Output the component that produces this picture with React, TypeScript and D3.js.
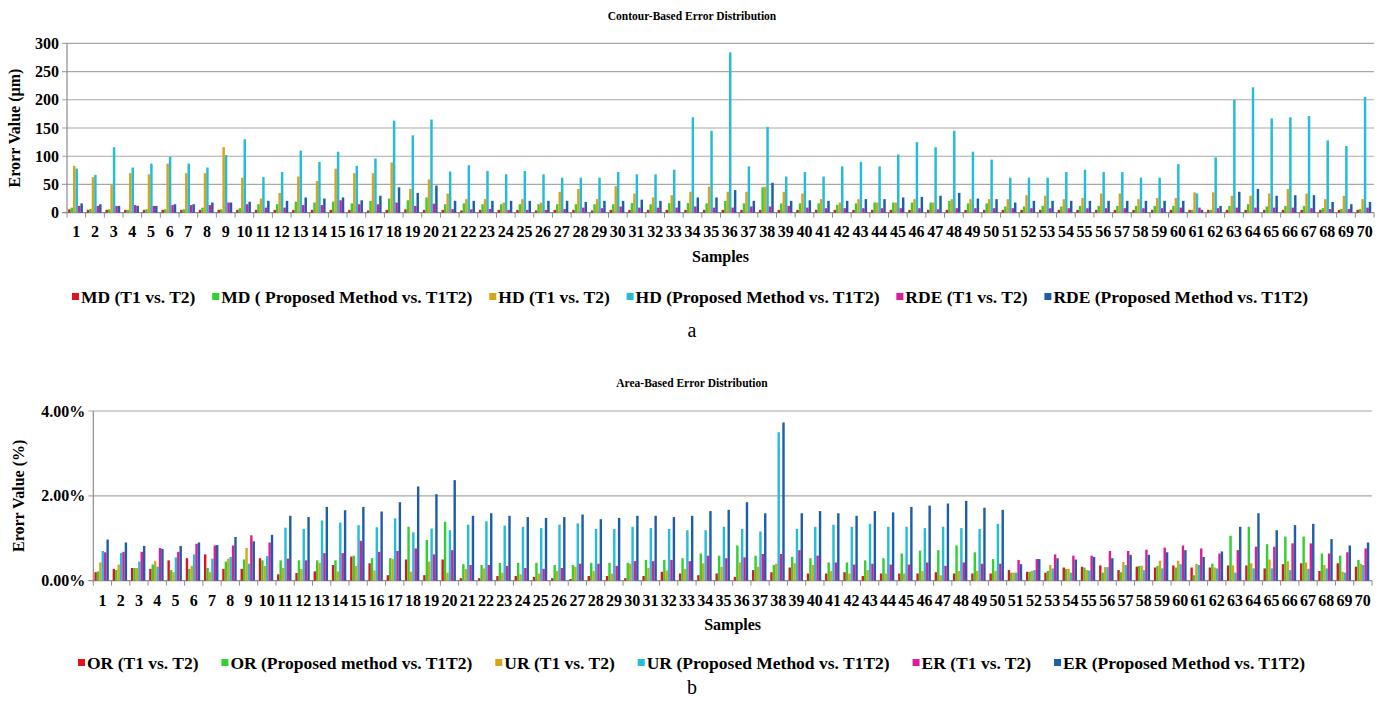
import { useEffect, useRef } from 'react';
import * as d3 from 'd3';

// Sample labels 1..70
const samples = d3.range(1, 71).map(String);

// ---- Contour-based errors (µm) ----
const mdT1 = [6, 5, 5, 5, 5, 5, 5, 5, 5, 5, 5, 5, 5, 5, 5, 5, 4, 5, 6, 5, 5, 4, 5, 5, 5, 4, 5, 5, 4, 5, 5, 5, 5, 5, 5, 5, 5, 5, 5, 5, 5, 5, 5, 5, 5, 5, 5, 5, 5, 5, 5, 5, 5, 5, 5, 5, 5, 5, 5, 5, 5, 5, 5, 5, 5, 5, 5, 5, 5, 5];
const mdProp = [9, 6.5, 6, 5, 6, 6, 6, 9, 6, 8, 15, 15, 19.5, 18, 19.5, 16.5, 21, 25, 22, 27, 15, 16.5, 15, 15, 15, 15, 15, 15, 15, 15, 17, 15, 17, 17, 16.5, 21, 16.5, 45, 16.5, 16.5, 16.5, 14, 16.5, 18, 18, 18, 18, 21, 16.5, 16.5, 11, 11, 12, 11, 12, 12, 12, 12, 12, 12, 5, 5, 12, 15, 11, 12, 12, 8, 6.5, 6.5];
const hdT1 = [83, 63, 50, 70, 68, 87, 70, 70, 116, 62, 25, 35, 64, 56, 78, 70, 70, 89, 42, 59, 34, 24, 24, 18, 24, 18, 37, 42, 24, 47, 34, 27, 31, 37, 46, 37, 37, 46, 37, 34, 24, 18, 24, 18, 18, 24, 18, 24, 24, 24, 24, 31, 30, 24, 26, 34, 34, 24, 26, 26, 36, 36, 30, 30, 34, 42, 34, 24, 30, 24];
const hdProp = [78, 67, 116, 80, 87, 99, 87, 80, 102, 130, 63, 72, 110, 90, 108, 83, 96, 163, 137, 165, 73, 84, 74, 68, 74, 68, 62, 62, 62, 72, 68, 68, 76, 169, 145, 284, 82, 152, 64, 72, 64, 82, 90, 82, 103, 125, 116, 145, 108, 94, 62, 62, 62, 72, 76, 72, 72, 62, 62, 86, 34, 98, 200, 222, 167, 169, 171, 128, 118, 205];
const rdeT1 = [12, 12, 12, 13.5, 12, 13.5, 13.5, 13.5, 18, 15, 9, 9, 13.5, 13.5, 22, 15, 15, 18, 12, 16, 6.5, 6, 6.5, 5, 5, 5, 6.5, 9, 8, 11, 9, 9, 9, 11, 9, 9, 11, 11, 12, 9, 8, 8, 8, 8, 8, 8, 6, 8, 8, 8, 8, 8, 8, 8, 8, 8, 8, 8, 8, 9, 9, 8, 9, 9, 9, 9, 8, 6.5, 6.5, 9];
const rdeProp = [16.5, 15, 12, 12, 12, 15, 15, 18, 18, 19.5, 21, 21, 27, 25, 27, 22, 30, 45, 35, 48, 21, 21, 21, 21, 21, 21, 21, 19, 21, 21, 23, 21, 21, 27, 27, 40, 21, 53, 21, 22, 21, 21, 24, 24, 27, 28, 30, 35, 25, 24, 18, 21, 21, 21, 21, 21, 21, 21, 21, 21, 5, 12, 37, 42, 30, 31, 31, 19, 15, 19];

// ---- Area-based errors (%) ----
const orT1 = [0.2, 0.28, 0.3, 0.28, 0.48, 0.53, 0.62, 0.28, 0.28, 0.53, 0.15, 0.18, 0.22, 0.37, 0.57, 0.41, 0.13, 0.5, 0.13, 0.5, 0.06, 0.06, 0.11, 0.11, 0.09, 0.06, 0.04, 0.11, 0.11, 0.06, 0.11, 0.21, 0.17, 0.13, 0.17, 0.09, 0.25, 0.2, 0.31, 0.17, 0.17, 0.2, 0.11, 0.17, 0.17, 0.17, 0.2, 0.17, 0.17, 0.17, 0.25, 0.21, 0.19, 0.31, 0.33, 0.36, 0.25, 0.33, 0.31, 0.36, 0.31, 0.31, 0.36, 0.36, 0.29, 0.39, 0.41, 0.23, 0.41, 0.33];
const orProp = [0.22, 0.25, 0.3, 0.38, 0.25, 0.28, 0.3, 0.45, 0.5, 0.48, 0.48, 0.48, 0.48, 0.48, 0.59, 0.53, 0.53, 1.27, 0.96, 1.39, 0.39, 0.37, 0.42, 0.42, 0.42, 0.37, 0.37, 0.42, 0.42, 0.42, 0.49, 0.49, 0.53, 0.64, 0.59, 0.83, 0.59, 0.37, 0.56, 0.53, 0.43, 0.43, 0.48, 0.53, 0.64, 0.71, 0.72, 0.83, 0.67, 0.51, 0.19, 0.21, 0.23, 0.28, 0.31, 0.19, 0.2, 0.35, 0.35, 0.31, 0.13, 0.4, 1.06, 1.27, 0.86, 1.04, 1.04, 0.64, 0.59, 0.49];
const urT1 = [0.43, 0.38, 0.3, 0.46, 0.2, 0.35, 0.2, 0.52, 0.77, 0.35, 0.3, 0.28, 0.42, 0.22, 0.35, 0.24, 0.51, 0.21, 0.45, 0.19, 0.28, 0.29, 0.19, 0.15, 0.17, 0.23, 0.33, 0.23, 0.17, 0.4, 0.3, 0.24, 0.28, 0.41, 0.33, 0.43, 0.33, 0.4, 0.41, 0.37, 0.23, 0.17, 0.25, 0.17, 0.17, 0.23, 0.13, 0.23, 0.23, 0.23, 0.19, 0.23, 0.37, 0.28, 0.25, 0.32, 0.44, 0.35, 0.47, 0.47, 0.4, 0.31, 0.36, 0.41, 0.5, 0.46, 0.43, 0.37, 0.21, 0.4];
const urProp = [0.7, 0.65, 0.45, 0.33, 0.55, 0.62, 0.52, 0.56, 0.4, 0.58, 1.25, 1.22, 1.42, 1.37, 1.31, 1.26, 1.47, 1.14, 1.23, 1.19, 1.32, 1.4, 1.3, 1.27, 1.24, 1.32, 1.35, 1.22, 1.22, 1.27, 1.24, 1.22, 1.19, 1.19, 1.27, 1.22, 1.16, 3.5, 1.22, 1.27, 1.32, 1.27, 1.34, 1.27, 1.27, 1.24, 1.27, 1.24, 1.22, 1.34, 0.19, 0.25, 0.29, 0.19, 0.24, 0.32, 0.37, 0.25, 0.29, 0.39, 0.37, 0.29, 0.19, 0.29, 0.29, 0.25, 0.28, 0.29, 0.19, 0.37];
const erT1 = [0.67, 0.68, 0.68, 0.77, 0.68, 0.87, 0.83, 0.83, 1.07, 0.9, 0.52, 0.48, 0.65, 0.65, 0.94, 0.68, 0.7, 0.76, 0.62, 0.72, 0.37, 0.37, 0.35, 0.3, 0.28, 0.3, 0.4, 0.4, 0.35, 0.46, 0.46, 0.49, 0.46, 0.59, 0.53, 0.55, 0.63, 0.63, 0.72, 0.59, 0.43, 0.38, 0.4, 0.38, 0.38, 0.43, 0.35, 0.43, 0.4, 0.4, 0.49, 0.51, 0.62, 0.59, 0.59, 0.7, 0.7, 0.73, 0.78, 0.83, 0.76, 0.64, 0.72, 0.8, 0.8, 0.88, 0.88, 0.64, 0.67, 0.76];
const erProp = [0.97, 0.9, 0.82, 0.75, 0.82, 0.9, 0.84, 1.03, 0.93, 1.08, 1.53, 1.5, 1.74, 1.66, 1.74, 1.63, 1.85, 2.22, 2.04, 2.37, 1.53, 1.59, 1.53, 1.5, 1.48, 1.5, 1.56, 1.45, 1.48, 1.53, 1.53, 1.5, 1.53, 1.64, 1.67, 1.85, 1.59, 3.73, 1.59, 1.64, 1.59, 1.53, 1.64, 1.61, 1.74, 1.77, 1.82, 1.88, 1.72, 1.67, 0.39, 0.51, 0.53, 0.5, 0.56, 0.53, 0.61, 0.61, 0.67, 0.72, 0.56, 0.69, 1.27, 1.59, 1.19, 1.31, 1.34, 0.98, 0.83, 0.9];

const contourNames = ['MD (T1 vs. T2)', 'MD ( Proposed Method vs. T1T2)', 'HD (T1 vs. T2)', 'HD (Proposed Method vs. T1T2)', 'RDE (T1 vs. T2)', 'RDE (Proposed Method vs. T1T2)'];
const areaNames = ['OR (T1 vs. T2)', 'OR (Proposed method vs. T1T2)', 'UR (T1 vs. T2)', 'UR (Proposed Method vs. T1T2)', 'ER (T1 vs. T2)', 'ER (Proposed Method vs. T1T2)'];
const contourTicks = [0, 50, 100, 150, 200, 250, 300];
const areaTicks = [0, 2, 4];

const colors = ['#e0141c', '#2ed12e', '#d9a41a', '#22bdd6', '#dd1c9c', '#1f5ea6'];
const FONT = '"Liberation Serif", "Times New Roman", serif';

interface PanelCfg {
  title: string;
  yTitle: string;
  names: string[];
  data: number[][];
  ticks: number[];
  fmt: (v: number) => string;
  left: number; right: number; top: number; bottom: number;
  titleY: number; yTitleX: number; labelY: number; samplesY: number;
  legendY: number; legendX0: number; legendX1: number;
  tag: string; tagY: number;
}

const drawPanel = (svg: d3.Selection<SVGSVGElement, unknown, null, undefined>, c: PanelCfg) => {
  const g = svg.append('g').attr('font-family', FONT);

  const x0 = d3.scaleBand<string>().domain(samples).range([c.left, c.right]);
  const bw = x0.bandwidth();
  const x1 = d3.scaleBand<number>().domain(d3.range(c.data.length)).range([bw * 0.06, bw * 0.85]);
  const y = d3.scaleLinear().domain([0, d3.max(c.ticks) as number]).range([c.bottom, c.top]);

  // grid lines
  g.selectAll('line.grid')
    .data(c.ticks)
    .enter().append('line')
    .attr('x1', c.left - 5)
    .attr('x2', c.right)
    .attr('y1', d => y(d))
    .attr('y2', d => y(d))
    .attr('stroke', d => (d === 0 ? '#8c8c8c' : '#a8a8a8'))
    .attr('stroke-width', 1.2);

  // y axis line
  g.append('line')
    .attr('x1', c.left).attr('x2', c.left)
    .attr('y1', c.top).attr('y2', c.bottom)
    .attr('stroke', '#8c8c8c').attr('stroke-width', 1.2);

  // x ticks at group boundaries
  const bounds = samples.map(s => x0(s) as number).concat([c.right]);
  g.selectAll('line.xt')
    .data(bounds)
    .enter().append('line')
    .attr('x1', d => d).attr('x2', d => d)
    .attr('y1', c.bottom).attr('y2', c.bottom + 5)
    .attr('stroke', '#8c8c8c').attr('stroke-width', 1);

  // bars
  c.data.forEach((vals, i) => {
    g.append('g')
      .attr('fill', colors[i])
      .selectAll('rect')
      .data(vals)
      .enter().append('rect')
      .attr('x', (d, j) => (x0(samples[j]) as number) + (x1(i) as number))
      .attr('width', x1.bandwidth())
      .attr('y', d => y(d))
      .attr('height', d => c.bottom - y(d));
  });

  // y tick labels
  g.selectAll('text.yl')
    .data(c.ticks)
    .enter().append('text')
    .attr('x', c.left - 8)
    .attr('y', d => y(d))
    .attr('dy', '0.35em')
    .attr('text-anchor', 'end')
    .attr('font-size', 16)
    .attr('font-weight', 'bold')
    .text(d => c.fmt(d));

  // x tick labels
  g.selectAll('text.xl')
    .data(samples)
    .enter().append('text')
    .attr('x', d => (x0(d) as number) + bw / 2)
    .attr('y', c.labelY)
    .attr('text-anchor', 'middle')
    .attr('font-size', 16)
    .attr('font-weight', 'bold')
    .text(d => d);

  // titles
  g.append('text')
    .attr('x', 692).attr('y', c.titleY)
    .attr('text-anchor', 'middle')
    .attr('font-size', 11.5).attr('font-weight', 'bold')
    .text(c.title);

  g.append('text')
    .attr('transform', `translate(${c.yTitleX},${(c.top + c.bottom) / 2}) rotate(-90)`)
    .attr('text-anchor', 'middle')
    .attr('font-size', 16).attr('font-weight', 'bold')
    .text(c.yTitle);

  g.append('text')
    .attr('x', (c.left + c.right) / 2).attr('y', c.samplesY)
    .attr('text-anchor', 'middle')
    .attr('font-size', 16).attr('font-weight', 'bold')
    .text('Samples');

  g.append('text')
    .attr('x', 692).attr('y', c.tagY)
    .attr('text-anchor', 'middle')
    .attr('font-size', 20)
    .text(c.tag);

  // legend: spread items between legendX0 and legendX1
  const leg = g.append('g').attr('font-size', 17.5).attr('font-weight', 'bold');
  const items = c.names.map((n, i) => {
    const it = leg.append('g');
    it.append('rect').attr('width', 7).attr('height', 7).attr('y', -10).attr('fill', colors[i]);
    const t = it.append('text').attr('x', 9).attr('y', 0).text(n);
    const w = 9 + (t.node() as SVGTextElement).getComputedTextLength();
    return { it, w };
  });
  const total = d3.sum(items, d => d.w);
  const gap = (c.legendX1 - c.legendX0 - total) / (items.length - 1);
  let cx = c.legendX0;
  items.forEach(d => {
    d.it.attr('transform', `translate(${cx},${c.legendY})`);
    cx += d.w + gap;
  });
};

export default function App() {
  const svgRef = useRef<SVGSVGElement>(null);

  useEffect(() => {
    if (!svgRef.current) return;
    const svg = d3.select(svgRef.current);
    svg.selectAll('*').remove();

    drawPanel(svg, {
      title: 'Contour-Based Error Distribution',
      yTitle: 'Erorr Value (µm)',
      names: contourNames,
      data: [mdT1, mdProp, hdT1, hdProp, rdeT1, rdeProp],
      ticks: contourTicks,
      fmt: d => String(d),
      left: 67, right: 1374, top: 43.3, bottom: 212.7,
      titleY: 20, yTitleX: 20, labelY: 237, samplesY: 262,
      legendY: 303, legendX0: 72, legendX1: 1308,
      tag: 'a', tagY: 337,
    });

    drawPanel(svg, {
      title: 'Area-Based Error Distribution',
      yTitle: 'Erorr Value (%)',
      names: areaNames,
      data: [orT1, orProp, urT1, urProp, erT1, erProp],
      ticks: areaTicks,
      fmt: d => d3.format('.2f')(d) + '%',
      left: 93.3, right: 1372, top: 411, bottom: 580.7,
      titleY: 387, yTitleX: 24, labelY: 606, samplesY: 630,
      legendY: 669, legendX0: 78, legendX1: 1305,
      tag: 'b', tagY: 694,
    });
  }, []);

  return (
    <svg
      ref={svgRef}
      width={1385}
      height={704}
      style={{ position: 'absolute', left: 0, top: 0, background: '#fff' }}
    />
  );
}
